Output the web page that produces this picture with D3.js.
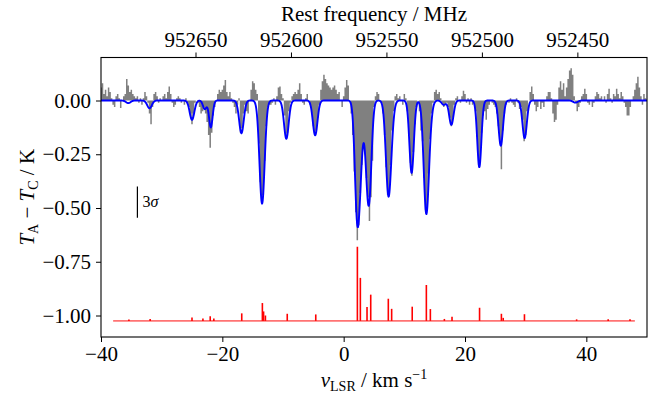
<!DOCTYPE html>
<html>
<head>
<meta charset="utf-8">
<script src="https://cdn.jsdelivr.net/npm/d3@7"></script>
<style>
  body { margin: 0; background: #fff; }
  svg { display: block; }
  text { font-family: "Liberation Serif", "DejaVu Serif", serif; fill: #000; }
</style>
</head>
<body>
<svg id="chart" width="660" height="394"></svg>
<script>
// ─── data ──────────────────────────────────────────────────────────────────

// observed spectrum, T_A - T_C (K), channels of 0.25 km/s starting at -40 km/s
const specV0 = -40;
const specDv = 0.25;
const specT = [
  0.06, 0.08, 0.03, 0.05,   0.02, 0.06, 0.04, 0.01,   -0.02, -0.03, 0.02, 0.03,   0.01, -0.035, 0.00, 0.02,
  0.03, 0.10, 0.07, 0.04,   0.05, 0.03, 0.02, 0.01,   0.02, -0.01, 0.01, -0.02,   0.01, 0.04, 0.02, -0.01,
  -0.06, -0.11, -0.03, 0.03,   0.04, 0.02, -0.01, 0.01,   0.00, 0.02, 0.03, 0.01,   0.04, 0.065, 0.03, -0.01,
  -0.03, -0.02, 0.01, 0.02,   0.01, -0.01, 0.00, -0.02,   0.01, -0.01, -0.03, -0.06,   -0.11, -0.06, -0.01, 0.00,
  -0.01, -0.03, -0.06, -0.05,   -0.04, -0.06, -0.10, -0.16,   -0.22, -0.15, -0.07, -0.03,   0.00, 0.03, 0.05, 0.04,
  0.05, 0.07, 0.095, 0.04,   0.02, 0.04, 0.01, -0.01,   -0.03, -0.06, -0.02, 0.01,
  // -17 km/s
  -0.15, -0.13, -0.06, -0.02,   -0.05, -0.06, 0.00, 0.05,   0.09, 0.08, 0.05, 0.03,   -0.20, -0.38, -0.47, -0.44,
  -0.28, -0.12, -0.03, -0.02,   -0.02, -0.01, 0.01, -0.02,   0.02, 0.06, 0.065, 0.03,   0.01, -0.07, -0.17, -0.15,
  -0.05, -0.01, 0.02, 0.03,   0.04, 0.03, 0.05, 0.08,   0.03, -0.01, -0.02, 0.01,   0.03, 0.00, -0.02, -0.06,
  -0.12, -0.16, -0.14, -0.08,   -0.02, 0.05, 0.09, 0.12,   0.10, 0.08, 0.07, 0.06,   0.05, 0.06, 0.07, 0.05,
  0.03, 0.04, 0.00, -0.03,
  // 0 km/s
  0.02, 0.06, 0.095, 0.07,   0.00, -0.06, -0.16, -0.33,   -0.52, -0.65, -0.58, -0.43,   -0.30, -0.22, -0.25, -0.36,
  -0.45, -0.56, -0.45, -0.28,   -0.03, 0.02, 0.04, 0.03,   0.00, -0.01, -0.06, -0.16,   -0.31, -0.44, -0.43, -0.30,
  -0.14, -0.05, 0.02, 0.03,   0.01, 0.02, 0.00, -0.02,   0.03, 0.01, -0.05, -0.16,   -0.29, -0.35, -0.24, -0.11,
  -0.03, 0.00, -0.05, -0.14,   -0.19, -0.36, -0.51, -0.49,   -0.34, -0.18, -0.06, -0.01,   0.04, 0.05, 0.03, 0.04,
  0.01, -0.01, -0.03, -0.02,   -0.01, -0.03, -0.08, -0.12,   -0.08, -0.02, 0.01, 0.02,   0.00, -0.01, 0.02, 0.045,
  // 20 km/s
  0.03, -0.01, 0.01, -0.02,   0.01, -0.02, -0.01, -0.05,   -0.17, -0.30, -0.29, -0.15,   -0.07, -0.05, -0.09, -0.04,
  -0.02, 0.00, -0.01, -0.02,   -0.03, -0.06, -0.12, -0.20,   -0.32, -0.14, -0.06, -0.02,   0.00, -0.01, 0.01, -0.01,
  -0.02, -0.03, 0.01, -0.01,   -0.04, -0.03, -0.09, -0.19,   -0.16, -0.05, 0.00, 0.04,   0.065, 0.03, -0.02, -0.05,
  -0.03, 0.00, -0.04, -0.01,   -0.03, 0.00, 0.02, 0.04,   0.04, 0.01, -0.06, -0.10,   -0.09, -0.02, 0.06, 0.09,
  0.05, 0.08, 0.02, 0.06,   0.10, 0.14, 0.15, 0.12,   0.02, -0.01, -0.05, -0.03,   -0.01, 0.02, 0.03, 0.055,
  // 40 km/s
  0.03, -0.01, -0.02, 0.00,   -0.03, -0.01, 0.02, 0.04,   0.03, 0.01, 0.02, 0.00,   0.02, -0.01, 0.03, 0.055,
  0.01, -0.01, 0.03, 0.02,   0.055, 0.03, 0.01, 0.04,   0.02, -0.01, -0.03, -0.07,   -0.07, -0.03, 0.00, 0.02,
  0.05, 0.08, 0.11, 0.06,   0.02, -0.02, 0.03, 0.01,   0.00
];

// fitted model: absorption components (centre km/s, depth K, FWHM km/s)
const lineV     = [-35.5, -32.0, -25.0, -22.9, -21.9, -16.85, -13.45, -9.45, -4.7, 2.2, 2.75, 3.8, 4.25, 7.38, 7.95, 11.2, 13.62, 14.3, 16.5, 17.75, 22.36, 25.9, 29.83, 38.2];
const lineDepth = [0.012, 0.036, 0.09, 0.04, 0.125, 0.152, 0.48, 0.178, 0.162, 0.48, 0.25, 0.2, 0.37, 0.43, 0.05, 0.337, 0.52, 0.04, 0.02, 0.113, 0.31, 0.21, 0.175, 0.01];
const lineFwhm  = [0.9, 0.9, 0.9, 0.7, 0.7, 0.9, 1.0, 0.9, 0.9, 0.9, 0.9, 0.9, 0.9, 1.0, 0.9, 0.85, 1.0, 0.9, 0.8, 0.85, 0.8, 0.85, 0.85, 0.9];

// stick spectrum (red): position km/s, top of stick in K
const stickV   = [-35.4, -31.9, -25.0, -23.2, -22.0, -21.4, -16.8, -13.4, -13.2, -12.9, -9.3, -4.6, 2.26, 2.75, 3.85, 4.46, 7.36, 7.91, 11.3, 13.63, 14.29, 16.6, 17.86, 22.4, 26.0, 26.3, 29.8, 38.4, 43.6, 47.2];
const stickTop = [-1.019, -1.016, -1.009, -1.014, -1.003, -1.014, -0.990, -0.942, -0.981, -1.000, -0.992, -0.995, -0.680, -0.825, -0.961, -0.903, -0.922, -0.969, -0.959, -0.858, -0.970, -1.016, -1.006, -0.964, -0.992, -1.011, -0.994, -1.018, -1.018, -1.018];
const stickBase = -1.025;
const stickRange = [-38, 48];

// axes
const xTicks = [-40, -20, 0, 20, 40];
const yTicks = [0, -0.25, -0.5, -0.75, -1.0];
const freqTicks = [952650, 952600, 952550, 952500, 952450];
const restFreq = 952572.4;     // MHz at v = 0
const cLight = 299792.458;     // km/s
const sigma3 = { v: -34, y0: -0.40, y1: -0.545 };

// ─── layout ────────────────────────────────────────────────────────────────

const W = 660, H = 394;
const L = 101, R = 647, T = 57.5, B = 337;

const svg = d3.select('#chart');
const x = d3.scaleLinear().domain([-40, 50]).range([L, R]);
const y = d3.scaleLinear().domain([-1.1, 0.2]).range([B, T]);
const vToF = v => restFreq * (1 - v / cLight);
const xf = d3.scaleLinear().domain([vToF(-40), vToF(50)]).range([L, R]);

const minus = s => String(s).replace('-', '\u2212');

svg.append('defs').append('clipPath').attr('id', 'plot')
  .append('rect').attr('x', L).attr('y', T).attr('width', R - L).attr('height', B - T);

const g = svg.append('g').attr('clip-path', 'url(#plot)');

// observed spectrum, filled steps
const spec = specT.map((t, i) => ({ v: specV0 + i * specDv, t }));
g.append('path')
  .datum(spec)
  .attr('fill', '#808080')
  .attr('d', d3.area().curve(d3.curveStep).x(d => x(d.v)).y0(y(0)).y1(d => y(d.t)));

// model
const modelV = d3.range(-40, 50.001, 0.05);
const model = modelV.map(v => {
  let t = 0;
  lineV.forEach((c, k) => {
    const s = lineFwhm[k] / 2.3548;
    t -= lineDepth[k] * Math.exp(-((v - c) ** 2) / (2 * s * s));
  });
  return { v, t };
});
g.append('path')
  .datum(model)
  .attr('fill', 'none')
  .attr('stroke', '#0000ff')
  .attr('stroke-width', 1.9)
  .attr('stroke-linejoin', 'round')
  .attr('d', d3.line().x(d => x(d.v)).y(d => y(d.t)));

// stick spectrum
g.append('line')
  .attr('x1', x(stickRange[0])).attr('x2', x(stickRange[1]))
  .attr('y1', y(stickBase)).attr('y2', y(stickBase))
  .attr('stroke', '#ff0000').attr('stroke-opacity', 0.55).attr('stroke-width', 1.6);
g.append('g').selectAll('line')
  .data(stickV.map((v, i) => ({ v, top: stickTop[i] })))
  .join('line')
  .attr('x1', d => x(d.v)).attr('x2', d => x(d.v))
  .attr('y1', y(stickBase)).attr('y2', d => y(d.top))
  .attr('stroke', '#ff0000').attr('stroke-width', 1.6);

// 3 sigma bar
svg.append('line')
  .attr('x1', x(sigma3.v)).attr('x2', x(sigma3.v))
  .attr('y1', y(sigma3.y0)).attr('y2', y(sigma3.y1))
  .attr('stroke', '#000').attr('stroke-width', 1.2);
const s3 = svg.append('text')
  .attr('x', x(sigma3.v) + 5).attr('y', y((sigma3.y0 + sigma3.y1) / 2) + 5)
  .attr('font-size', 16);
s3.append('tspan').text('3');
s3.append('tspan').attr('font-style', 'italic').text('σ');

// axes
const fs = 21;
const fsSub = 14;
const axB = svg.append('g').attr('transform', `translate(0,${B})`)
  .call(d3.axisBottom(x).tickValues(xTicks).tickSize(5).tickPadding(4).tickFormat(minus));
const axL = svg.append('g').attr('transform', `translate(${L},0)`)
  .call(d3.axisLeft(y).tickValues(yTicks).tickSize(5).tickPadding(5).tickFormat(d => minus(d3.format('.2f')(d))));
const axT = svg.append('g').attr('transform', `translate(0,${T})`)
  .call(d3.axisTop(xf).tickValues(freqTicks).tickSize(5).tickPadding(6).tickFormat(d3.format('d')));
[axB, axL, axT].forEach(a => {
  a.select('.domain').remove();
  a.selectAll('.tick line').attr('stroke', '#000').attr('stroke-width', 1);
  a.selectAll('text').attr('font-family', '"Liberation Serif", serif').attr('font-size', fs).attr('fill', '#000');
});

// frame
svg.append('rect')
  .attr('x', L).attr('y', T).attr('width', R - L).attr('height', B - T)
  .attr('fill', 'none').attr('stroke', '#000').attr('stroke-width', 1.1);

// axis titles
svg.append('text')
  .attr('x', (L + R) / 2).attr('y', 21)
  .attr('text-anchor', 'middle').attr('font-size', fs)
  .text('Rest frequency / MHz');

const xl = svg.append('text')
  .attr('x', (L + R) / 2).attr('y', 387)
  .attr('text-anchor', 'middle').attr('font-size', fs);
xl.append('tspan').attr('font-style', 'italic').text('v');
xl.append('tspan').attr('font-size', fsSub).attr('dy', 4).text('LSR');
xl.append('tspan').attr('dy', -4).text(' / km s');
xl.append('tspan').attr('font-size', fsSub).attr('dy', -8).text('\u22121');

const yl = svg.append('text')
  .attr('transform', `translate(34,${(T + B) / 2}) rotate(-90)`)
  .attr('text-anchor', 'middle').attr('font-size', fs);
yl.append('tspan').attr('font-style', 'italic').text('T');
yl.append('tspan').attr('font-size', fsSub).attr('dy', 4).text('A');
yl.append('tspan').attr('dy', -4).text(' \u2212 ');
yl.append('tspan').attr('font-style', 'italic').text('T');
yl.append('tspan').attr('font-size', fsSub).attr('dy', 4).text('C');
yl.append('tspan').attr('dy', -4).text(' / K');
</script>
</body>
</html>
